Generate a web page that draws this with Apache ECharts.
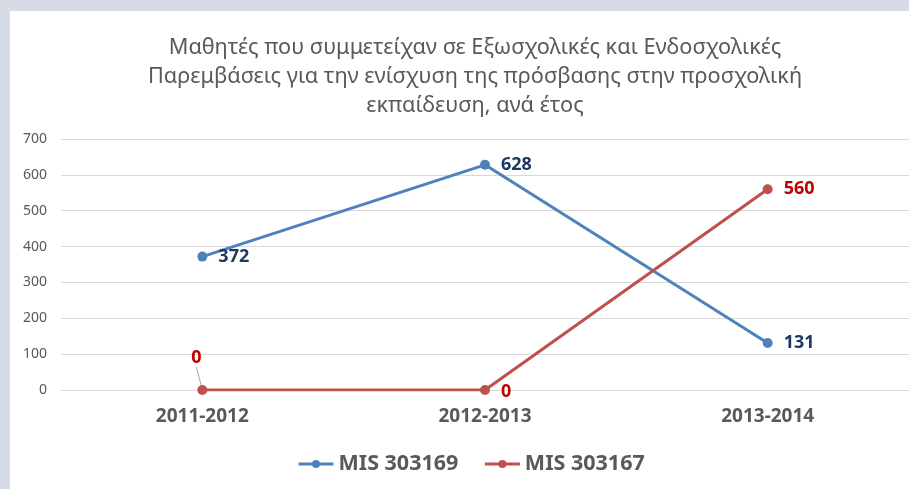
<!DOCTYPE html>
<html>
<head>
<meta charset="utf-8">
<script src="https://cdn.jsdelivr.net/npm/echarts@6/dist/echarts.min.js"></script>
<style>
  html, body { margin: 0; padding: 0; background: #d6dce5; }
  #chart { position: absolute; left: 10px; top: 11px; width: 899px; height: 478px; background: #fff; }
</style>
</head>
<body>
<div id="chart"></div>
<script>
// χρονιές (κατηγορίες) και τιμές των δύο έργων
const years = ['2011-2012', '2012-2013', '2013-2014']
const mis303169 = [372, 628, 131]
const mis303167 = [0, 0, 560]
const yTicks = { min: 0, max: 700, interval: 100 }

const titleText = 'Μαθητές που συμμετείχαν σε Εξωσχολικές και Ενδοσχολικές\n' +
  'Παρεμβάσεις για την ενίσχυση της πρόσβασης στην προσχολική\n' +
  'εκπαίδευση, ανά έτος'

const font = '"Noto Sans", "DejaVu Sans", sans-serif'

// το πρώτο μηδενικό έχει ετικέτα πάνω με γραμμή οδηγό
const redData = mis303167.map((v, i) => i === 0
  ? { value: v, labelLine: { show: true, lineStyle: { color: '#a6a6a6', width: 1 } } }
  : v)

const chart = echarts.init(document.getElementById('chart'))
chart.setOption({
  animation: false,
  textStyle: { fontFamily: font },
  title: {
    text: titleText,
    left: 460,
    textAlign: 'center',
    top: 17,
    textStyle: { fontSize: 21.7, fontWeight: 'normal', color: '#595959', lineHeight: 29, fontFamily: font }
  },
  legend: {
    bottom: 9,
    left: 282,
    itemWidth: 35,
    itemHeight: 10,
    itemGap: 25,
    lineStyle: { width: 3 },
    textStyle: { fontSize: 21.5, fontWeight: 'bold', color: '#595959', fontFamily: font },
    data: ['MIS 303169', 'MIS 303167']
  },
  grid: { left: 51, right: -3, top: 128, bottom: 99 },
  xAxis: {
    type: 'category',
    data: years,
    boundaryGap: true,
    axisLine: { lineStyle: { color: '#d9d9d9' } },
    axisTick: { show: false },
    axisLabel: { fontSize: 19, fontWeight: 'bold', color: '#595959', margin: 17 }
  },
  yAxis: {
    type: 'value',
    min: yTicks.min,
    max: yTicks.max,
    interval: yTicks.interval,
    axisLine: { show: false },
    axisTick: { show: false },
    axisLabel: { fontSize: 14, color: '#595959', margin: 14 },
    splitLine: { lineStyle: { color: '#d9d9d9' } }
  },
  series: [
    {
      name: 'MIS 303169',
      type: 'line',
      data: mis303169,
      symbol: 'circle',
      symbolSize: 10,
      lineStyle: { width: 3, color: '#4f81bd' },
      itemStyle: { color: '#4f81bd' },
      label: {
        show: true,
        position: 'right',
        distance: 11,
        fontSize: 18,
        fontWeight: 'bold',
        color: '#1f3864'
      }
    },
    {
      name: 'MIS 303167',
      type: 'line',
      data: redData,
      symbol: 'circle',
      symbolSize: 10,
      lineStyle: { width: 3, color: '#c0504d' },
      itemStyle: { color: '#c0504d' },
      label: {
        show: true,
        position: 'right',
        distance: 11,
        fontSize: 18,
        fontWeight: 'bold',
        color: '#c00000'
      },
      labelLine: { show: false },
      labelLayout: function (params) {
        if (params.dataIndex === 0) return { dx: -27, dy: -32 }
        if (params.dataIndex === 1) return { dy: 2 }
        return {}
      }
    }
  ]
})
</script>
</body>
</html>
